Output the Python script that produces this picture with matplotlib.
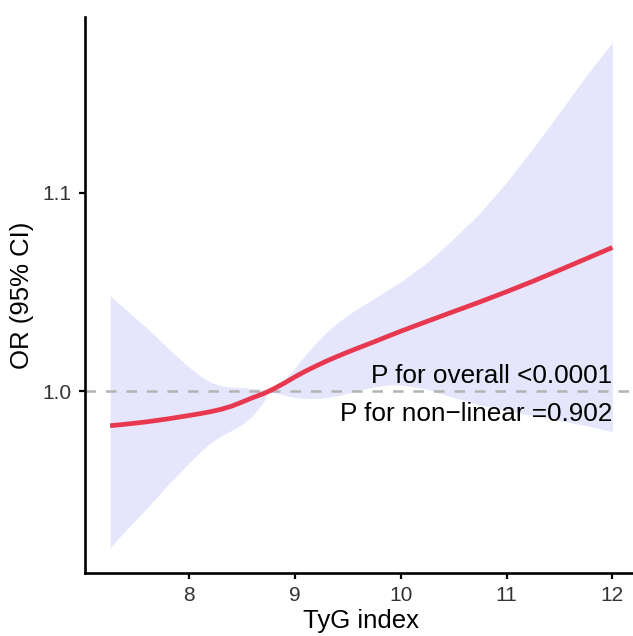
import numpy as np
import matplotlib
matplotlib.use("Agg")
import matplotlib.pyplot as plt

plt.rcParams["font.family"] = ["Liberation Sans", "DejaVu Sans"]

# restricted cubic spline fit: TyG index vs odds ratio
tyg = [7.25, 7.4, 7.6, 7.8, 8.0, 8.1, 8.2, 8.3, 8.4, 8.5, 8.6, 8.7, 8.75, 8.8,
       8.9, 9.0, 9.1, 9.2, 9.3, 9.4, 9.5, 9.6, 9.75, 9.9, 10.0, 10.25, 10.5,
       10.75, 11.0, 11.25, 11.5, 11.75, 12.0]
or_est = [0.9826, 0.9834, 0.9846, 0.9861, 0.9878, 0.9887, 0.9897, 0.9909, 0.9925,
          0.9946, 0.9968, 0.9988, 1.0000, 1.0013, 1.0042, 1.0073, 1.0102, 1.0128,
          1.0153, 1.0176, 1.0198, 1.0219, 1.0250, 1.0282, 1.0303, 1.0353, 1.0402,
          1.0451, 1.0502, 1.0555, 1.0611, 1.0668, 1.0725]
or_lower = [0.9211, 0.9300, 0.9412, 0.9530, 0.9640, 0.9692, 0.9740, 0.9775, 0.9803,
            0.9833, 0.9878, 0.9945, 1.0000, 0.9993, 0.9980, 0.9968, 0.9963, 0.9963,
            0.9968, 0.9978, 0.9990, 1.0005, 1.0022, 1.0033, 1.0032, 1.0010, 0.9968,
            0.9930, 0.9903, 0.9877, 0.9853, 0.9827, 0.9796]
or_upper = [1.0482, 1.0410, 1.0318, 1.0215, 1.0120, 1.0078, 1.0045, 1.0027, 1.0021,
            1.0018, 1.0014, 1.0006, 1.0000, 1.0016, 1.0060, 1.0118, 1.0185, 1.0245,
            1.0300, 1.0345, 1.0385, 1.0420, 1.0468, 1.0520, 1.0552, 1.0650, 1.0770,
            1.0900, 1.1055, 1.1225, 1.1405, 1.1590, 1.1760]

x_ticks = [8, 9, 10, 11, 12]
y_ticks = [1.0, 1.1]
p_overall = "P for overall <0.0001"
p_nonlinear = "P for non\u2212linear =0.902"

fig = plt.figure(figsize=(6.33, 6.36), dpi=100)
ax = fig.add_axes([0.1343, 0.0991, 0.8728, 0.8742])

ax.fill_between(tyg, or_lower, or_upper, color="#e5e5fb", linewidth=0, zorder=1)
ax.axhline(1.0, color="#b3b3b3", linewidth=1.8, dashes=(4.2, 4.0), zorder=2)
ax.plot(tyg, or_est, color="#e8384f", linewidth=3.4, solid_capstyle="butt",
        solid_joinstyle="round", zorder=3)

ax.text(12.0, 1.0040, p_overall, ha="right", va="baseline", fontsize=18.8, color="black")
ax.text(12.0, 0.9851, p_nonlinear, ha="right", va="baseline", fontsize=18.8, color="black")

# ggplot-style 5% expansion around the data range
x_span = max(tyg) - min(tyg)
y_span = max(or_upper) - min(or_lower)
ax.set_xlim(min(tyg) - 0.05 * x_span, max(tyg) + 0.05 * x_span)
ax.set_ylim(min(or_lower) - 0.05 * y_span, max(or_upper) + 0.05 * y_span)

ax.set_xticks(x_ticks)
ax.set_xticklabels([str(t) for t in x_ticks])
ax.set_yticks(y_ticks)
ax.set_yticklabels([f"{t:.1f}" for t in y_ticks])

for side in ["top", "right"]:
    ax.spines[side].set_visible(False)
for side in ["left", "bottom"]:
    ax.spines[side].set_linewidth(1.9)
    ax.spines[side].set_color("black")

ax.tick_params(axis="both", direction="out", length=4.0, width=1.6, color="black",
               labelsize=15, labelcolor="#333333", pad=5.5)

ax.set_xlabel("TyG index", fontsize=18.5, labelpad=3)
ax.set_ylabel("OR (95% CI)", fontsize=18.5, labelpad=6)

fig.savefig("out.png", dpi=100)
plt.close(fig)
